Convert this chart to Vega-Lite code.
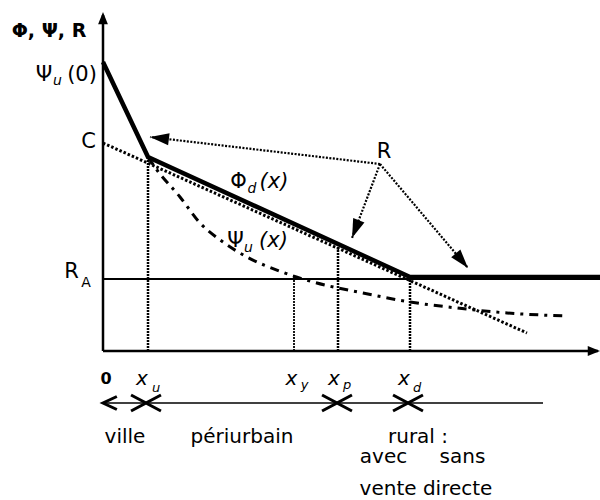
{
  "$schema": "https://vega.github.io/schema/vega-lite/v6.json",
  "width": 600,
  "height": 500,
  "autosize": "none",
  "padding": 0,
  "background": "white",
  "config": {"view": {"stroke": null}},
  "datasets": {
    "lines": [
      {"s": "thick", "x": 0, "y": 289},
      {"s": "thick", "x": 45, "y": 194},
      {"s": "thick", "x": 307, "y": 74},
      {"s": "thick", "x": 497, "y": 74},
      {"s": "C", "x": 0, "y": 208},
      {"s": "C", "x": 424, "y": 18},
      {"s": "psi", "x": 45, "y": 194},
      {"s": "psi", "x": 54, "y": 181},
      {"s": "psi", "x": 77, "y": 154},
      {"s": "psi", "x": 97, "y": 128},
      {"s": "psi", "x": 120, "y": 109},
      {"s": "psi", "x": 144, "y": 94},
      {"s": "psi", "x": 179, "y": 79},
      {"s": "psi", "x": 210, "y": 69},
      {"s": "psi", "x": 260, "y": 58},
      {"s": "psi", "x": 307, "y": 49},
      {"s": "psi", "x": 354, "y": 43},
      {"s": "psi", "x": 404, "y": 38},
      {"s": "psi", "x": 464, "y": 35}
    ],
    "segs": [
      {"s": "axis", "x": 0, "y": 0, "x2": 0, "y2": 336},
      {"s": "axis", "x": 0, "y": 0, "x2": 495, "y2": 0},
      {"s": "RA", "x": 0, "y": 72, "x2": 497, "y2": 72},
      {"s": "vert", "x": 45, "y": 0, "x2": 45, "y2": 194},
      {"s": "vthin", "x": 191, "y": 0, "x2": 191, "y2": 76},
      {"s": "vert", "x": 235, "y": 0, "x2": 235, "y2": 106},
      {"s": "vert", "x": 307, "y": 0, "x2": 307, "y2": 74},
      {"s": "arr", "x": 277, "y": 187, "x2": 47, "y2": 214},
      {"s": "arr", "x": 277, "y": 187, "x2": 249, "y2": 113},
      {"s": "arr", "x": 277, "y": 187, "x2": 365, "y2": 83},
      {"s": "bottom", "x": 0, "y": -52, "x2": 440, "y2": -52}
    ],
    "heads": [
      {"s": "a1", "x": 47, "y": 214},
      {"s": "a2", "x": 249, "y": 113},
      {"s": "a3", "x": 365, "y": 83},
      {"s": "ytip", "x": 0, "y": 339},
      {"s": "xtip", "x": 497, "y": 0},
      {"s": "left", "x": 0, "y": -52},
      {"s": "cross", "x": 43, "y": -52},
      {"s": "cross", "x": 234, "y": -52},
      {"s": "cross", "x": 305, "y": -52}
    ],
    "labels": [
      {"g": "title", "t": "Φ, Ψ, R", "x": -54, "y": 314},
      {"g": "main", "t": "Ψ", "x": -59, "y": 270},
      {"g": "main", "t": "(0)", "x": -21, "y": 270},
      {"g": "main", "t": "C", "x": -14.5, "y": 203},
      {"g": "main", "t": "R", "x": -31.5, "y": 73},
      {"g": "main", "t": "Φ", "x": 135.5, "y": 163},
      {"g": "main", "t": "Ψ", "x": 132.5, "y": 104},
      {"g": "main", "t": "R", "x": 281, "y": 193},
      {"g": "it", "t": "(x)", "x": 171, "y": 163},
      {"g": "it", "t": "(x)", "x": 170.5, "y": 104},
      {"g": "sub", "t": "u", "x": -45.5, "y": 266},
      {"g": "sub", "t": "d", "x": 149, "y": 158},
      {"g": "sub", "t": "u", "x": 145.5, "y": 99},
      {"g": "subup", "t": "A", "x": -17, "y": 64},
      {"g": "zero", "t": "0", "x": 3, "y": -33},
      {"g": "xlab", "t": "x", "x": 39, "y": -34},
      {"g": "xlab", "t": "x", "x": 188.5, "y": -34},
      {"g": "xlab", "t": "x", "x": 231, "y": -34},
      {"g": "xlab", "t": "x", "x": 301, "y": -34},
      {"g": "xsub", "t": "u", "x": 53, "y": -41},
      {"g": "xsub", "t": "y", "x": 201.5, "y": -38},
      {"g": "xsub", "t": "p", "x": 244, "y": -38},
      {"g": "xsub", "t": "d", "x": 314, "y": -41},
      {"g": "words", "t": "ville", "x": 22, "y": -92},
      {"g": "words", "t": "périurbain", "x": 139, "y": -92},
      {"g": "words", "t": "rural :", "x": 315, "y": -92},
      {"g": "words", "t": "avec", "x": 280.5, "y": -112},
      {"g": "words", "t": "sans", "x": 359.5, "y": -112},
      {"g": "words", "t": "vente directe", "x": 323, "y": -144}
    ]
  },
  "encoding": {
    "x": {"field": "x", "type": "quantitative", "scale": {"domain": [-103, 497], "nice": false, "zero": false}, "axis": null},
    "y": {"field": "y", "type": "quantitative", "scale": {"domain": [-149, 351], "nice": false, "zero": false}, "axis": null}
  },
  "layer": [
    {"data": {"name": "segs"}, "transform": [{"filter": "datum.s === 'RA'"}],
     "mark": {"type": "rule", "color": "black", "strokeWidth": 2},
     "encoding": {"x2": {"field": "x2"}, "y2": {"field": "y2"}}},
    {"data": {"name": "segs"}, "transform": [{"filter": "datum.s === 'axis'"}],
     "mark": {"type": "rule", "color": "black", "strokeWidth": 2.5},
     "encoding": {"x2": {"field": "x2"}, "y2": {"field": "y2"}}},
    {"data": {"name": "segs"}, "transform": [{"filter": "datum.s === 'vert'"}],
     "mark": {"type": "rule", "color": "black", "strokeWidth": 2.5, "strokeDash": [2, 1]},
     "encoding": {"x2": {"field": "x2"}, "y2": {"field": "y2"}}},
    {"data": {"name": "segs"}, "transform": [{"filter": "datum.s === 'vthin'"}],
     "mark": {"type": "rule", "color": "black", "strokeWidth": 1.8, "strokeDash": [2, 1]},
     "encoding": {"x2": {"field": "x2"}, "y2": {"field": "y2"}}},
    {"data": {"name": "segs"}, "transform": [{"filter": "datum.s === 'arr'"}],
     "mark": {"type": "rule", "color": "black", "strokeWidth": 2.2, "strokeDash": [2, 1.5]},
     "encoding": {"x2": {"field": "x2"}, "y2": {"field": "y2"}}},
    {"data": {"name": "segs"}, "transform": [{"filter": "datum.s === 'bottom'"}],
     "mark": {"type": "rule", "color": "black", "strokeWidth": 1.5},
     "encoding": {"x2": {"field": "x2"}, "y2": {"field": "y2"}}},
    {"data": {"name": "lines"}, "transform": [{"filter": "datum.s === 'C'"}],
     "mark": {"type": "line", "color": "black", "strokeWidth": 3, "strokeDash": [2.5, 2]}},
    {"data": {"name": "lines"}, "transform": [{"filter": "datum.s === 'psi'"}],
     "mark": {"type": "line", "color": "black", "strokeWidth": 3, "strokeDash": [9, 6, 3, 6], "interpolate": "monotone"}},
    {"data": {"name": "lines"}, "transform": [{"filter": "datum.s === 'thick'"}],
     "mark": {"type": "line", "color": "black", "strokeWidth": 4.5, "strokeJoin": "miter"}},
    {"data": {"name": "heads"}, "transform": [{"filter": "datum.s === 'a1'"}],
     "mark": {"type": "point", "shape": "M0,0L-0.6,1.9L0.6,1.9Z", "size": 400, "angle": 277, "filled": true, "color": "black", "opacity": 1}},
    {"data": {"name": "heads"}, "transform": [{"filter": "datum.s === 'a2'"}],
     "mark": {"type": "point", "shape": "M0,0L-0.6,1.9L0.6,1.9Z", "size": 400, "angle": 201, "filled": true, "color": "black", "opacity": 1}},
    {"data": {"name": "heads"}, "transform": [{"filter": "datum.s === 'a3'"}],
     "mark": {"type": "point", "shape": "M0,0L-0.6,1.9L0.6,1.9Z", "size": 400, "angle": 140, "filled": true, "color": "black", "opacity": 1}},
    {"data": {"name": "heads"}, "transform": [{"filter": "datum.s === 'ytip'"}],
     "mark": {"type": "point", "shape": "M0,0L-0.8,2L0.8,2Z", "size": 150, "angle": 0, "filled": true, "color": "black", "opacity": 1}},
    {"data": {"name": "heads"}, "transform": [{"filter": "datum.s === 'xtip'"}],
     "mark": {"type": "point", "shape": "M0,0L-0.8,2L0.8,2Z", "size": 150, "angle": 90, "filled": true, "color": "black", "opacity": 1}},
    {"data": {"name": "heads"}, "transform": [{"filter": "datum.s === 'left'"}],
     "mark": {"type": "point", "shape": "M1.6,-0.75L0,0L1.6,0.75", "size": 300, "filled": false, "color": "black", "strokeWidth": 3, "opacity": 1}},
    {"data": {"name": "heads"}, "transform": [{"filter": "datum.s === 'cross'"}],
     "mark": {"type": "point", "shape": "M-1.6,-0.85L0,0L-1.6,0.85M1.6,-0.85L0,0L1.6,0.85", "size": 350, "filled": false, "color": "black", "strokeWidth": 3, "opacity": 1}},
    {"data": {"name": "labels"}, "transform": [{"filter": "datum.g === 'title'"}],
     "mark": {"type": "text", "font": "DejaVu Sans", "fontSize": 19, "fontWeight": "bold", "align": "center", "baseline": "alphabetic", "color": "black"},
     "encoding": {"text": {"field": "t"}}},
    {"data": {"name": "labels"}, "transform": [{"filter": "datum.g === 'main'"}],
     "mark": {"type": "text", "font": "DejaVu Sans", "fontSize": 21, "align": "center", "baseline": "alphabetic", "color": "black"},
     "encoding": {"text": {"field": "t"}}},
    {"data": {"name": "labels"}, "transform": [{"filter": "datum.g === 'it'"}],
     "mark": {"type": "text", "font": "DejaVu Sans", "fontSize": 21, "fontStyle": "italic", "align": "center", "baseline": "alphabetic", "color": "black"},
     "encoding": {"text": {"field": "t"}}},
    {"data": {"name": "labels"}, "transform": [{"filter": "datum.g === 'sub'"}],
     "mark": {"type": "text", "font": "DejaVu Sans", "fontSize": 14, "fontStyle": "italic", "align": "center", "baseline": "alphabetic", "color": "black"},
     "encoding": {"text": {"field": "t"}}},
    {"data": {"name": "labels"}, "transform": [{"filter": "datum.g === 'subup'"}],
     "mark": {"type": "text", "font": "DejaVu Sans", "fontSize": 14, "align": "center", "baseline": "alphabetic", "color": "black"},
     "encoding": {"text": {"field": "t"}}},
    {"data": {"name": "labels"}, "transform": [{"filter": "datum.g === 'zero'"}],
     "mark": {"type": "text", "font": "DejaVu Sans", "fontSize": 16, "fontWeight": "bold", "align": "center", "baseline": "alphabetic", "color": "black"},
     "encoding": {"text": {"field": "t"}}},
    {"data": {"name": "labels"}, "transform": [{"filter": "datum.g === 'xlab'"}],
     "mark": {"type": "text", "font": "DejaVu Sans", "fontSize": 20, "fontStyle": "italic", "align": "center", "baseline": "alphabetic", "color": "black"},
     "encoding": {"text": {"field": "t"}}},
    {"data": {"name": "labels"}, "transform": [{"filter": "datum.g === 'xsub'"}],
     "mark": {"type": "text", "font": "DejaVu Sans", "fontSize": 13, "fontStyle": "italic", "align": "center", "baseline": "alphabetic", "color": "black"},
     "encoding": {"text": {"field": "t"}}},
    {"data": {"name": "labels"}, "transform": [{"filter": "datum.g === 'words'"}],
     "mark": {"type": "text", "font": "DejaVu Sans", "fontSize": 20, "align": "center", "baseline": "alphabetic", "color": "black"},
     "encoding": {"text": {"field": "t"}}}
  ]
}
